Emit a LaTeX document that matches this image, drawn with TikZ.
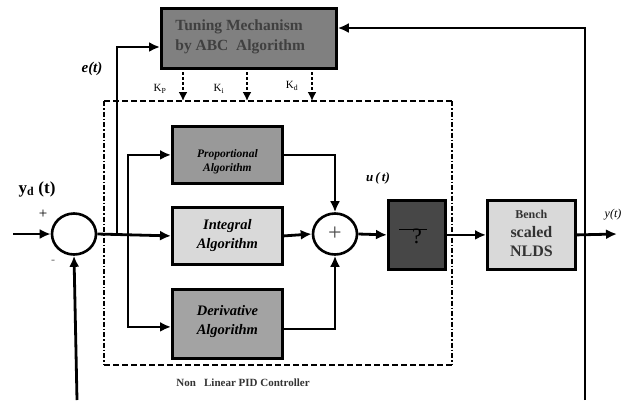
\documentclass[tikz,border=0pt]{standalone}
\usepackage{fontspec}
\setmainfont{Liberation Serif}
\usetikzlibrary{arrows.meta,shapes.geometric}
\begin{document}
\begin{tikzpicture}[x=1pt,y=-1pt,
  line width=2.8pt,
  arr/.style={-{Latex[length=11pt,width=10pt]}},
  blk/.style={draw,line width=2.8pt,inner sep=0pt,anchor=north west},
  sumc/.style={draw,ellipse,line width=2.6pt,minimum width=44pt,minimum height=41pt,inner sep=0pt,fill=white},
  lbl/.style={inner sep=0pt,font=\bfseries\itshape},
  hdash/.style={dashed,dash pattern=on 6pt off 3pt,line width=2.6pt},
  vdash/.style={dashed,dash pattern=on 5pt off 2pt on 1.5pt off 2pt,line width=2.6pt}
]
\useasboundingbox (0,0) rectangle (629,400);
% dashed controller box
\coordinate (c1) at (104,101);
\coordinate (c2) at (452,101);
\coordinate (c3) at (452,365);
\coordinate (c4) at (104,365);
\draw[hdash] (c1) -- (c2);
\draw[hdash] (c4) -- (c3);
\draw[vdash] (c1) -- (c4);
\draw[vdash] (c2) -- (c3);
% tuning
\node[blk,fill=black!50,minimum width=175pt,minimum height=60pt] (tune) at (160,7) {};
\node[align=left,anchor=west,font=\bfseries\fontsize{15.5}{20}\selectfont,text=black!75,inner sep=0pt] (tunet) at (174,37) {Tuning Mechanism\\by ABC\ \ Algorithm};
% blocks
\node[blk,fill=black!40,minimum width=110pt,minimum height=57pt] (prop) at (171,125) {};
\node[lbl,align=center,font=\bfseries\itshape\fontsize{11.5}{14}\selectfont] at ([yshift=-7pt]prop.center) {Proportional\\Algorithm};
\node[blk,fill=black!15,minimum width=110pt,minimum height=57pt] (int) at (171,206) {};
\node[lbl,align=center,font=\bfseries\itshape\fontsize{14.5}{19}\selectfont] at (int.center) {Integral\\Algorithm};
\node[blk,fill=black!36,minimum width=110pt,minimum height=69pt] (der) at (171,288) {};
\node[lbl,align=center,font=\bfseries\itshape\fontsize{14.5}{19}\selectfont] at ([yshift=2pt]der.center) {Derivative\\Algorithm};
\node[blk,fill=black!72,minimum width=57pt,minimum height=69pt] (q) at (387,199) {};
\node[inner sep=0pt,font=\fontsize{22}{22}\selectfont] (qt) at ([yshift=-1pt]q.center) {?};
\draw[line width=0.8pt] (399,229) -- (427,229);
\node[blk,fill=black!15,minimum width=88pt,minimum height=69pt] (plant) at (486,199) {};
\node[align=center,inner sep=0pt,text=black!80,font=\bfseries\fontsize{16}{19}\selectfont] at ([yshift=1pt]plant.center) {{\fontsize{12}{12}\selectfont Bench}\\scaled\\NLDS};
% sums
\node[sumc] (s1) at (74,234) {};
\node[sumc] (s2) at (335,234) {};
\node[font=\fontsize{24}{24}\selectfont,inner sep=0pt,text=black!70] at (s2.center) {+};
% coordinates
\coordinate (in) at (13,234);
\coordinate (br) at (128,234);
\coordinate (et) at (117,234);
\coordinate (out) at (617,234);
\coordinate (botL) at (77,400);
\coordinate (botR) at (585,400);
% signal flow
\draw[arr] (in) -- (s1.west);
\draw[arr] (s1.east) -- (int.west);
\draw[arr] (br) |- (prop.west);
\draw[arr] (br) |- ([yshift=-3pt]der.west);
\draw[arr] (et) |- (tune.west |- 0,47);
\draw[arr] (prop.east) -| (s2.north);
\draw[arr] (int.east) -- (s2.west);
\draw[arr] ([yshift=-5pt]der.east) -| (s2.south);
\draw[arr] (s2.east) -- (q.west);
\draw[arr] (q.east) -- (plant.west);
\draw[arr] (plant.east) -- (out);
\draw[arr] (botR) -- (585,28) -- (tune.east |- 0,28);
\draw[arr] (botL) -- (s1.south);
% gains
\foreach \x in {183,247,312}
  \draw[-{Latex[length=9pt,width=9pt]},dashed,dash pattern=on 3pt off 2pt,line width=2pt] (\x,67) -- (\x,101);
% labels
\node[font=\fontsize{11}{11}\selectfont,inner sep=0pt] at (160,89) {K\textsubscript{P}};
\node[font=\fontsize{11}{11}\selectfont,inner sep=0pt] at (219,89) {K\textsubscript{i}};
\node[font=\fontsize{11}{11}\selectfont,inner sep=0pt] at (292,86) {K\textsubscript{d}};
\node[lbl,font=\bfseries\itshape\fontsize{15}{15}\selectfont] at (92,69) {e(t)};
\node[inner sep=0pt,font=\bfseries\fontsize{17}{17}\selectfont] at (37,189) {y\textsubscript{d} (t)};
\node[inner sep=0pt,font=\fontsize{15}{15}\selectfont] at (43,214) {+};
\node[inner sep=0pt,font=\fontsize{12}{12}\selectfont,text=black!60] at (53,262) {-};
\node[lbl,font=\bfseries\itshape\fontsize{13}{13}\selectfont] at (378,178) {u\,(\,t)};
\node[lbl,font=\itshape\fontsize{12}{12}\selectfont] at (613,215) {y(t)};
\node[inner sep=0pt,font=\bfseries\fontsize{11}{11}\selectfont,text=black!80] at (243,383) {Non\ \ \ Linear PID Controller};
\end{tikzpicture}
\end{document}
